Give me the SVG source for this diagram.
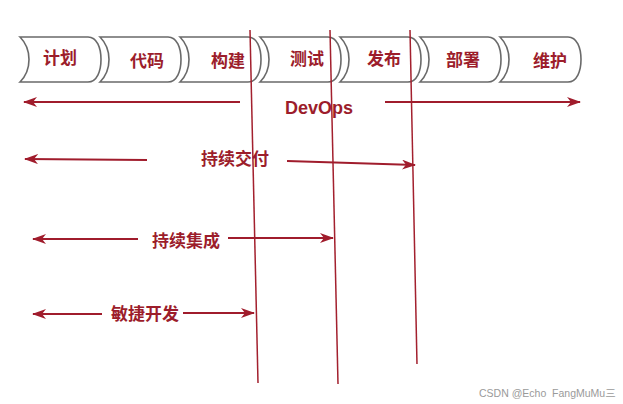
<svg xmlns="http://www.w3.org/2000/svg" width="623" height="404" viewBox="0 0 623 404">
<defs>
<style>
.stage{fill:#ffffff;stroke:#6a6a6a;stroke-width:1.6}
.lbl{font-family:"Noto Sans CJK SC","Liberation Sans",sans-serif;font-weight:bold;font-size:17px;fill:#9c1d2b;text-anchor:middle}
.dev{font-family:"Liberation Sans","Noto Sans",sans-serif;font-weight:bold;font-size:18px;fill:#9c1d2b;text-anchor:middle}
.arr{stroke:#a01c2c;stroke-width:2;fill:none}
.vl{stroke:#a3202e;stroke-width:1.5;fill:none}
.wm{font-family:"Liberation Sans","Noto Sans CJK SC",sans-serif;font-size:10.5px;fill:#9a9a9a}
</style>
<path id="chev" d="M0,37 L68,37 C77,37 81,48 81,59.5 C81,71 77,82 68,82 L0,82 C6,76 9,68 9,59.5 C9,51 6,43 0,37 Z"/>
<marker id="ah" markerWidth="14" markerHeight="10" refX="13" refY="5" orient="auto" markerUnits="userSpaceOnUse">
<path d="M0,0 L14,5 L0,10 L4,5 Z" fill="#a01c2c"/>
</marker>
</defs>
<rect width="623" height="404" fill="#ffffff"/>
<g id="stage-plan"><use href="#chev" x="20" class="stage"/><text class="lbl" x="60" y="64">计划</text></g>
<g id="stage-code"><use href="#chev" x="100" class="stage"/><text class="lbl" x="147" y="67">代码</text></g>
<g id="stage-build"><use href="#chev" x="180" class="stage"/><text class="lbl" x="228" y="67">构建</text></g>
<g id="stage-test"><use href="#chev" x="260" class="stage"/><text class="lbl" x="307" y="65">测试</text></g>
<g id="stage-release"><use href="#chev" x="340" class="stage"/><text class="lbl" x="384" y="65">发布</text></g>
<g id="stage-deploy"><use href="#chev" x="420" class="stage"/><text class="lbl" x="463" y="66">部署</text></g>
<g id="stage-maintain"><use href="#chev" x="500" class="stage"/><text class="lbl" x="550" y="67">维护</text></g>
<g id="connectors">
<line class="vl" x1="250" y1="30" x2="258" y2="383"/>
<line class="vl" x1="330" y1="30" x2="338" y2="384"/>
<line class="vl" x1="410" y1="30" x2="417" y2="364"/>
<line class="arr" x1="240" y1="102" x2="24" y2="102" marker-end="url(#ah)"/>
<line class="arr" x1="385" y1="102" x2="580" y2="102" marker-end="url(#ah)"/>
<line class="arr" x1="147" y1="160" x2="25" y2="159" marker-end="url(#ah)"/>
<line class="arr" x1="287" y1="161" x2="415" y2="165" marker-end="url(#ah)"/>
<line class="arr" x1="138" y1="239" x2="33" y2="239" marker-end="url(#ah)"/>
<line class="arr" x1="228" y1="238" x2="333" y2="238" marker-end="url(#ah)"/>
<line class="arr" x1="102" y1="314" x2="33" y2="314" marker-end="url(#ah)"/>
<line class="arr" x1="183" y1="313" x2="254" y2="313" marker-end="url(#ah)"/>
</g>
<g id="label-devops"><text class="dev" x="319" y="114">DevOps</text></g>
<g id="label-cd"><text class="lbl" x="235" y="165">持续交付</text></g>
<g id="label-ci"><text class="lbl" x="186" y="247">持续集成</text></g>
<g id="label-agile"><text class="lbl" x="145" y="320">敏捷开发</text></g>
<text class="wm" x="479" y="397" xml:space="preserve">CSDN @Echo  FangMuMu三</text>
</svg>
